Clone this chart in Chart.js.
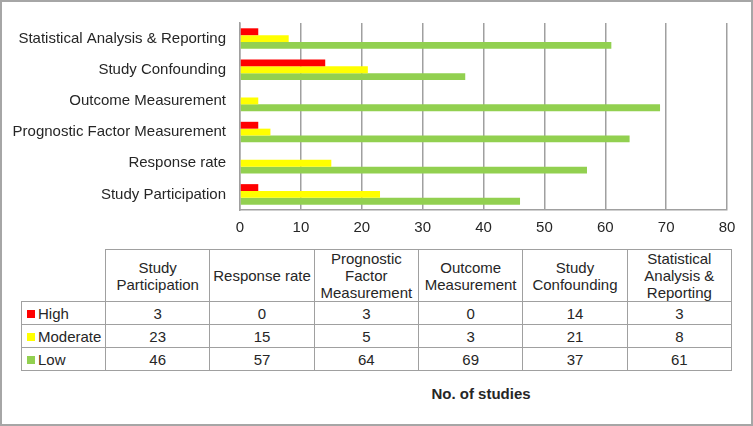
<!DOCTYPE html>
<html>
<head>
<meta charset="utf-8">
<script src="https://cdn.jsdelivr.net/npm/chart.js@4.4.0/dist/chart.umd.min.js"></script>
<style>
    html, body { margin: 0; padding: 0; background: #fff; }
    body { width: 753px; height: 426px; position: relative; overflow: hidden;
           font-family: 'Liberation Sans', Arial, sans-serif; color: #262626; }
    #frame { position: absolute; left: 0; top: 0; width: 753px; height: 426px;
             box-sizing: border-box; border: 2px solid #a6a6a6; }
    #chartBox { position: absolute; left: 0; top: 0; width: 753px; height: 245px; }
    #dataTable { position: absolute; left: 21px; top: 249px; border-collapse: collapse;
                 table-layout: fixed; width: 711px; font-size: 15px; }
    #dataTable td, #dataTable th { border: 1px solid #a0a0a0; padding: 0 2px;
                 text-align: center; font-weight: normal; line-height: 17px; }
    #dataTable thead th { height: 50px; }
    #dataTable tbody td { height: 22px; }
    #dataTable th.corner { border-top: none; border-left: none; }
    #dataTable td.series { text-align: left; padding-left: 5px; }
    .swatch { display: inline-block; width: 8px; height: 8px; margin-right: 3px; vertical-align: 1px; }
    #axisTitle { position: absolute; left: 381px; top: 385px; width: 200px;
                 text-align: center; font-weight: bold; font-size: 15px; }
</style>
</head>
<body>
<div id="frame"></div>
<div id="chartBox"><canvas id="riskChart"></canvas></div>
<table id="dataTable"></table>
<div id="axisTitle">No. of studies</div>
<script>
// Daten (Reihenfolge wie in der Tabelle)
const categories = ['Study Participation', 'Response rate', 'Prognostic Factor Measurement',
    'Outcome Measurement', 'Study Confounding', 'Statistical Analysis & Reporting'];
const seriesNames = ['High', 'Moderate', 'Low'];
const highValues = [3, 0, 3, 0, 14, 3];
const moderateValues = [23, 15, 5, 3, 21, 8];
const lowValues = [46, 57, 64, 69, 37, 61];
const xTicks = [0, 10, 20, 30, 40, 50, 60, 70, 80];

// Farben
const seriesColors = ['#ff0000', '#ffff00', '#92d050'];
const gridColor = '#a0a0a0';
const textColor = '#262626';

const seriesValues = [highValues, moderateValues, lowValues];

// Im Diagramm steht die letzte Kategorie oben
const chartLabels = categories.slice().reverse();

new Chart(document.getElementById('riskChart'), {
    type: 'bar',
    data: {
        labels: chartLabels,
        datasets: seriesNames.map((name, i) => ({
            label: name,
            data: seriesValues[i].slice().reverse(),
            backgroundColor: seriesColors[i],
            borderWidth: 0,
            categoryPercentage: 0.66,
            barPercentage: 1
        }))
    },
    options: {
        indexAxis: 'y',
        responsive: true,
        maintainAspectRatio: false,
        animation: false,
        layout: { padding: { top: 22, right: 26, left: 0, bottom: 0 } },
        plugins: {
            legend: { display: false },
            tooltip: { enabled: false }
        },
        scales: {
            x: {
                min: xTicks[0],
                max: xTicks[xTicks.length - 1],
                afterBuildTicks: (scale) => { scale.ticks = xTicks.map(v => ({ value: v })); },
                afterFit: (scale) => { scale.height = 35; },
                grid: { color: gridColor, lineWidth: 1.5, drawTicks: false },
                border: { display: true, color: gridColor, width: 1.5 },
                ticks: {
                    color: textColor,
                    padding: 9,
                    font: { size: 15, family: "'Liberation Sans', Arial, sans-serif" }
                }
            },
            y: {
                afterFit: (scale) => { scale.width = 240; },
                grid: { display: false, drawTicks: false },
                border: { display: true, color: gridColor, width: 1.5 },
                ticks: {
                    color: textColor,
                    padding: 14,
                    font: { size: 15, family: "'Liberation Sans', Arial, sans-serif" }
                }
            }
        }
    }
});

// Datentabelle unter dem Diagramm
const table = document.getElementById('dataTable');
let html = '<colgroup><col style="width:84px">' +
    categories.map(() => '<col>').join('') + '</colgroup>';
html += '<thead><tr><th class="corner"></th>' +
    categories.map(c => `<th>${c.replace('&', '&amp;')}</th>`).join('') + '</tr></thead><tbody>';
seriesNames.forEach((name, i) => {
    html += `<tr><td class="series"><span class="swatch" style="background:${seriesColors[i]}"></span>${name}</td>` +
        seriesValues[i].map(v => `<td>${v}</td>`).join('') + '</tr>';
});
html += '</tbody>';
table.innerHTML = html;
</script>
</body>
</html>
